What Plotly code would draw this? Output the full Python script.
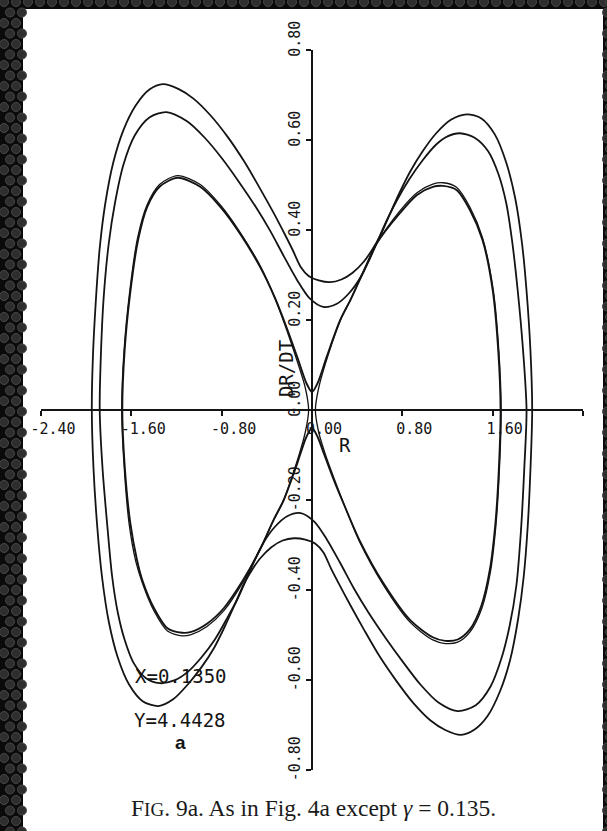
import plotly.graph_objects as go

# ---------------- phase-plane trajectories (R, dR/dt) ----------------
# outermost loop: upper half (left -> right), lower half (right -> left)
OUTER_TOP_R = [-1.95, -1.94, -1.915, -1.88, -1.83, -1.76, -1.67, -1.56, -1.44, -1.32, -1.18,
               -1.05, -0.90, -0.75, -0.60, -0.46, -0.34, -0.24, -0.17, -0.10, -0.03, 0.06, 0.16,
               0.26, 0.36, 0.46, 0.53, 0.60, 0.68, 0.77, 0.87, 0.98, 1.10, 1.23, 1.37, 1.50,
               1.62, 1.72, 1.80, 1.86, 1.90, 1.935, 1.95]
OUTER_TOP_V = [0.00, 0.12, 0.24, 0.36, 0.46, 0.55, 0.622, 0.677, 0.712, 0.724, 0.713, 0.692,
               0.655, 0.608, 0.552, 0.492, 0.438, 0.39, 0.355, 0.318, 0.298, 0.288, 0.284,
               0.29, 0.305, 0.33, 0.355, 0.385, 0.43, 0.48, 0.53, 0.575, 0.615, 0.645, 0.657,
               0.648, 0.612, 0.55, 0.47, 0.37, 0.265, 0.13, 0.00]
OUTER_BOT_R = [1.95, 1.935, 1.91, 1.875, 1.825, 1.755, 1.665, 1.555, 1.44, 1.32, 1.18, 1.05,
               0.90, 0.75, 0.60, 0.46, 0.34, 0.24, 0.17, 0.10, 0.03, -0.06, -0.16, -0.26,
               -0.36, -0.46, -0.53, -0.60, -0.68, -0.77, -0.87, -0.98, -1.10, -1.23, -1.36,
               -1.50, -1.62, -1.72, -1.80, -1.86, -1.90, -1.935, -1.95]
OUTER_BOT_V = [0.00, -0.13, -0.26, -0.37, -0.465, -0.555, -0.625, -0.68, -0.71, -0.722, -0.711,
               -0.69, -0.652, -0.603, -0.548, -0.488, -0.434, -0.387, -0.353, -0.316, -0.297,
               -0.288, -0.285, -0.29, -0.305, -0.33, -0.355, -0.385, -0.43, -0.48, -0.53,
               -0.572, -0.61, -0.643, -0.658, -0.647, -0.61, -0.55, -0.47, -0.37, -0.265, -0.13,
               0.00]

# middle loop
MID_TOP_R = [-1.88, -1.87, -1.845, -1.80, -1.745, -1.67, -1.57, -1.44, -1.29, -1.11, -0.95,
             -0.80, -0.65, -0.50, -0.37, -0.25, -0.13, -0.02, 0.10, 0.22, 0.33, 0.43, 0.51, 0.58,
             0.66, 0.75, 0.86, 0.98, 1.10, 1.20, 1.31, 1.44, 1.56, 1.65, 1.72, 1.77, 1.82, 1.87,
             1.90]
MID_TOP_V = [0.00, 0.12, 0.25, 0.37, 0.46, 0.545, 0.61, 0.65, 0.662, 0.642, 0.605, 0.56, 0.508,
             0.452, 0.398, 0.342, 0.288, 0.248, 0.229, 0.236, 0.26, 0.295, 0.335, 0.375, 0.42,
             0.465, 0.512, 0.555, 0.59, 0.608, 0.615, 0.605, 0.575, 0.525, 0.46, 0.38, 0.27,
             0.13, 0.00]
MID_BOT_R = [1.90, 1.88, 1.85, 1.81, 1.75, 1.68, 1.58, 1.45, 1.29, 1.12, 0.96, 0.80, 0.65,
             0.50, 0.37, 0.25, 0.13, 0.02, -0.10, -0.22, -0.33, -0.43, -0.51, -0.58, -0.66,
             -0.75, -0.86, -0.98, -1.10, -1.22, -1.35, -1.47, -1.58, -1.66, -1.72, -1.77, -1.81,
             -1.855, -1.88]
MID_BOT_V = [0.00, -0.13, -0.27, -0.39, -0.48, -0.55, -0.615, -0.656, -0.669, -0.65, -0.61,
             -0.558, -0.506, -0.45, -0.396, -0.34, -0.287, -0.248, -0.229, -0.236, -0.26,
             -0.295, -0.335, -0.375, -0.42, -0.462, -0.51, -0.55, -0.582, -0.601, -0.607,
             -0.596, -0.562, -0.51, -0.45, -0.37, -0.265, -0.13, 0.00]

# figure-eight passing just above / below the saddle
EIGHT_TOP_R = [-1.68, -1.66, -1.61, -1.54, -1.46, -1.35, -1.19, -0.99, -0.81, -0.64, -0.46,
               -0.33, -0.22, -0.12, -0.05, 0.00, 0.05, 0.13, 0.25, 0.34, 0.46, 0.575, 0.78,
               0.93, 1.07, 1.16, 1.28, 1.40, 1.51, 1.60, 1.65, 1.67]
EIGHT_TOP_V = [0.00, 0.13, 0.26, 0.378, 0.451, 0.496, 0.516, 0.496, 0.451, 0.393, 0.318,
               0.25, 0.18, 0.11, 0.06, 0.04, 0.06, 0.118, 0.20, 0.244, 0.31, 0.371, 0.438,
               0.478, 0.496, 0.498, 0.489, 0.444, 0.378, 0.267, 0.13, 0.00]
EIGHT_BOT_R = [1.67, 1.655, 1.625, 1.575, 1.50, 1.40, 1.29, 1.18, 1.07, 0.87, 0.63, 0.42, 0.30,
               0.20, 0.11, 0.05, 0.00, -0.05, -0.13, -0.25, -0.34, -0.46, -0.61, -0.78, -0.93,
               -1.07, -1.15, -1.28, -1.40, -1.50, -1.55, -1.61, -1.66, -1.68]
EIGHT_BOT_V = [0.00, -0.13, -0.25, -0.355, -0.435, -0.487, -0.51, -0.513, -0.505, -0.467,
               -0.384, -0.289, -0.22, -0.16, -0.10, -0.06, -0.04, -0.06, -0.118, -0.20, -0.244,
               -0.31, -0.378, -0.44, -0.475, -0.493, -0.495, -0.485, -0.44, -0.38, -0.333,
               -0.25, -0.12, 0.00]

# loops that turn back at the saddle (left well and right well)
LEFT_LOOP_R = [-0.03, -0.06, -0.14, -0.26, -0.35, -0.47, -0.61, -0.78, -0.93, -1.07, -1.15,
               -1.28, -1.40, -1.50, -1.56, -1.62, -1.665, -1.685, -1.665, -1.615, -1.545, -1.46,
               -1.35, -1.19, -0.99, -0.81, -0.64, -0.46, -0.33, -0.22, -0.12, -0.06, -0.03]
LEFT_LOOP_V = [0.00, -0.05, -0.12, -0.205, -0.25, -0.315, -0.382, -0.446, -0.481, -0.499,
               -0.502, -0.491, -0.446, -0.386, -0.337, -0.252, -0.12, 0.00, 0.13, 0.262, 0.382,
               0.456, 0.501, 0.521, 0.501, 0.455, 0.396, 0.321, 0.25, 0.175, 0.10, 0.05, 0.00]
RIGHT_LOOP_R = [0.03, 0.06, 0.14, 0.26, 0.35, 0.47, 0.575, 0.78, 0.93, 1.07, 1.16, 1.28, 1.40,
                1.51, 1.605, 1.655, 1.675, 1.66, 1.63, 1.58, 1.505, 1.40, 1.29, 1.18, 1.07, 0.87,
                0.63, 0.42, 0.30, 0.20, 0.12, 0.06, 0.03]
RIGHT_LOOP_V = [0.00, 0.05, 0.12, 0.205, 0.25, 0.315, 0.37, 0.443, 0.483, 0.502, 0.505, 0.495,
                0.45, 0.383, 0.267, 0.13, 0.00, -0.13, -0.253, -0.36, -0.44, -0.493, -0.516,
                -0.519, -0.511, -0.472, -0.388, -0.292, -0.22, -0.155, -0.10, -0.05, 0.00]

# ---------------- axes ----------------
R_TICKS = [-2.4, -1.6, -0.8, 0.0, 0.8, 1.6, 2.4]
R_TICK_TEXT = ["-2.40", "-1.60", "-0.80", "0.00", "0.80", "1.60", "2.40"]
V_TICKS = [-0.8, -0.6, -0.4, -0.2, 0.0, 0.2, 0.4, 0.6, 0.8]
V_TICK_TEXT = ["-0.80", "-0.60", "-0.40", "-0.20", "0.00", "0.20", "0.40", "0.60", "0.80"]

PARAM_X = "X=0.1350"
PARAM_Y = "Y=4.4428"
PANEL = "a"
CAPTION = ("F<span style='font-size:19px'>IG</span>. 9a. As in Fig. 4a except "
           "<i>γ</i> = 0.135.")

W, H = 607, 831
ML, MR, MT, MB = 41, 24, 50, 61
PW, PH = W - ML - MR, H - MT - MB


def px2paper(px, py):
    return (px - ML) / PW, 1 - (py - MT) / PH


fig = go.Figure()

INK = "#141414"


def add_path(r, v, width):
    fig.add_trace(go.Scatter(
        x=r, y=v, mode="lines",
        line=dict(color=INK, width=width, shape="spline", smoothing=0.8),
        hoverinfo="skip", showlegend=False))


add_path(OUTER_TOP_R + OUTER_BOT_R[1:], OUTER_TOP_V + OUTER_BOT_V[1:], 1.8)
add_path(MID_TOP_R + MID_BOT_R[1:], MID_TOP_V + MID_BOT_V[1:], 1.8)
add_path(EIGHT_TOP_R + EIGHT_BOT_R[1:], EIGHT_TOP_V + EIGHT_BOT_V[1:], 1.9)
add_path(LEFT_LOOP_R, LEFT_LOOP_V, 1.3)
add_path(RIGHT_LOOP_R, RIGHT_LOOP_V, 1.3)

MONO = "DejaVu Sans Mono"

axis_common = dict(
    showgrid=False, zeroline=False, showline=True, linecolor=INK, linewidth=2,
    ticks="outside", ticklen=5, tickwidth=1.6, tickcolor=INK,
    anchor="free", position=0.5, fixedrange=True,
    tickfont=dict(family=MONO, size=15, color=INK),
)

fig.update_xaxes(range=[-2.4, 2.4], tickvals=R_TICKS, ticktext=R_TICK_TEXT,
                 ticklabelshift=12, **axis_common)
fig.update_yaxes(range=[-0.8, 0.8], tickvals=V_TICKS, ticktext=V_TICK_TEXT,
                 tickangle=-90, ticklabelshift=-9, **axis_common)


def note(x, y, text, size=19, family=MONO, angle=0):
    return dict(x=x, y=y, xref="x", yref="y", text=text, textangle=angle,
                showarrow=False, xanchor="center", yanchor="middle",
                font=dict(family=family, size=size, color=INK))


annotations = [
    note(-0.23, 0.091, "DR/DT", angle=-90),
    note(0.29, -0.078, "R"),
    note(-1.16, -0.591, PARAM_X),
    note(-1.168, -0.689, PARAM_Y),
    note(-1.165, -0.738, "<b>" + PANEL + "</b>", family="Liberation Sans"),
]
cx, cy = px2paper(313, 808)
annotations.append(dict(x=cx, y=cy, xref="paper", yref="paper", text=CAPTION,
                        showarrow=False, xanchor="center", yanchor="middle",
                        font=dict(family="Liberation Serif", size=23.5, color="#1a1a1a")))

# page sheet on a dark perforated backdrop
shapes = []
x0, y1 = px2paper(23, 9)
x1, y0 = px2paper(603, 845)
shapes.append(dict(type="rect", xref="paper", yref="paper", x0=x0, x1=x1, y0=y0, y1=y1,
                   fillcolor="white", line=dict(width=0), layer="below"))


def hole(px, py, d=9):
    a0, b1 = px2paper(px - d / 2, py - d / 2)
    a1, b0 = px2paper(px + d / 2, py + d / 2)
    return dict(type="circle", xref="paper", yref="paper", x0=a0, x1=a1, y0=b0, y1=b1,
                fillcolor="#2e2e2e", line=dict(color="#474747", width=1), layer="below")


row = 0
py = 2
while py < H + 6:
    off = 0 if row % 2 == 0 else 6
    for px in (4 + off, 16 + off):
        if px < 23:
            shapes.append(hole(px, py))
    if py < 12:
        for px in range(28 + off, W + 6, 12):
            shapes.append(hole(px, py))
    shapes.append(hole(607 + (0 if row % 2 else 3), py))
    py += 10.5
    row += 1

fig.update_layout(
    width=W, height=H,
    margin=dict(l=ML, r=MR, t=MT, b=MB, autoexpand=False),
    paper_bgcolor="#0b0b0b", plot_bgcolor="white",
    annotations=annotations, shapes=shapes,
    showlegend=False,
)

fig.write_html("out.html")
